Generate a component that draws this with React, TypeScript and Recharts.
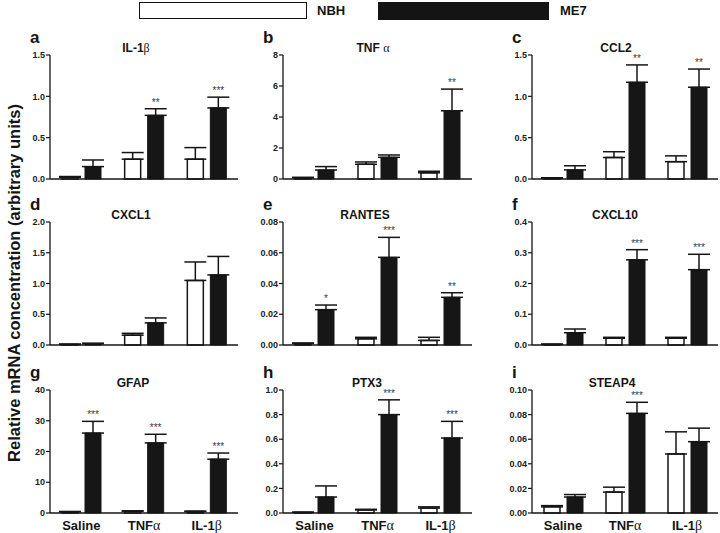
import React from 'react'
import { BarChart, Bar, XAxis, YAxis, ErrorBar, LabelList } from 'recharts'

// ── Data ──────────────────────────────────────────────────────
const groups = ['Saline', 'TNFα', 'IL-1β']

const il1bNBH = [0.02, 0.24, 0.24]
const il1bNBHErr = [0.01, 0.08, 0.14]
const il1bME7 = [0.15, 0.77, 0.86]
const il1bME7Err = [0.08, 0.08, 0.13]
const il1bSig = ['', '**', '***']

const tnfNBH = [0.08, 0.95, 0.4]
const tnfNBHErr = [0.03, 0.15, 0.1]
const tnfME7 = [0.58, 1.4, 4.4]
const tnfME7Err = [0.22, 0.15, 1.4]
const tnfSig = ['', '', '**']

const ccl2NBH = [0.01, 0.26, 0.21]
const ccl2NBHErr = [0.005, 0.07, 0.07]
const ccl2ME7 = [0.11, 1.17, 1.11]
const ccl2ME7Err = [0.05, 0.21, 0.22]
const ccl2Sig = ['', '**', '**']

const cxcl1NBH = [0.01, 0.16, 1.05]
const cxcl1NBHErr = [0.005, 0.03, 0.3]
const cxcl1ME7 = [0.02, 0.36, 1.14]
const cxcl1ME7Err = [0.01, 0.08, 0.3]
const cxcl1Sig = ['', '', '']

const rantesNBH = [0.001, 0.004, 0.003]
const rantesNBHErr = [0.0003, 0.001, 0.002]
const rantesME7 = [0.023, 0.057, 0.031]
const rantesME7Err = [0.003, 0.013, 0.003]
const rantesSig = ['*', '***', '**']

const cxcl10NBH = [0.002, 0.022, 0.022]
const cxcl10NBHErr = [0.001, 0.003, 0.003]
const cxcl10ME7 = [0.04, 0.277, 0.245]
const cxcl10ME7Err = [0.012, 0.033, 0.05]
const cxcl10Sig = ['', '***', '***']

const gfapNBH = [0.4, 0.6, 0.5]
const gfapNBHErr = [0.1, 0.1, 0.1]
const gfapME7 = [26, 22.8, 17.5]
const gfapME7Err = [3.8, 2.8, 2]
const gfapSig = ['***', '***', '***']

const ptx3NBH = [0.005, 0.025, 0.04]
const ptx3NBHErr = [0.002, 0.005, 0.01]
const ptx3ME7 = [0.13, 0.8, 0.61]
const ptx3ME7Err = [0.09, 0.12, 0.135]
const ptx3Sig = ['', '***', '***']

const steap4NBH = [0.005, 0.017, 0.048]
const steap4NBHErr = [0.001, 0.004, 0.018]
const steap4ME7 = [0.013, 0.081, 0.058]
const steap4ME7Err = [0.002, 0.009, 0.011]
const steap4Sig = ['', '***', '']

// ── Layout ────────────────────────────────────────────────────
const FONT = "'Liberation Sans', Arial, sans-serif"
const SERIF = "'Liberation Serif', 'DejaVu Serif', serif"
const INK = '#151515'

const colAxisX = [50, 283, 532]
const colAxisEnd = [238, 472, 718]
const rowTop = [55, 222, 390]
const rowBottom = [179, 345, 513]

type PanelDef = {
  letter: string
  title: string
  titleX: number
  row: number
  col: number
  nbh: number[]
  nbhErr: number[]
  me7: number[]
  me7Err: number[]
  sig: string[]
  ticks: number[]
  digits: number
}

const panels: PanelDef[] = [
  { letter: 'a', title: 'IL-1β', titleX: 136, row: 0, col: 0, nbh: il1bNBH, nbhErr: il1bNBHErr, me7: il1bME7, me7Err: il1bME7Err, sig: il1bSig, ticks: [0, 0.5, 1, 1.5], digits: 1 },
  { letter: 'b', title: 'TNF α', titleX: 373, row: 0, col: 1, nbh: tnfNBH, nbhErr: tnfNBHErr, me7: tnfME7, me7Err: tnfME7Err, sig: tnfSig, ticks: [0, 2, 4, 6, 8], digits: 0 },
  { letter: 'c', title: 'CCL2', titleX: 616, row: 0, col: 2, nbh: ccl2NBH, nbhErr: ccl2NBHErr, me7: ccl2ME7, me7Err: ccl2ME7Err, sig: ccl2Sig, ticks: [0, 0.5, 1, 1.5], digits: 1 },
  { letter: 'd', title: 'CXCL1', titleX: 131, row: 1, col: 0, nbh: cxcl1NBH, nbhErr: cxcl1NBHErr, me7: cxcl1ME7, me7Err: cxcl1ME7Err, sig: cxcl1Sig, ticks: [0, 0.5, 1, 1.5, 2], digits: 1 },
  { letter: 'e', title: 'RANTES', titleX: 365, row: 1, col: 1, nbh: rantesNBH, nbhErr: rantesNBHErr, me7: rantesME7, me7Err: rantesME7Err, sig: rantesSig, ticks: [0, 0.02, 0.04, 0.06, 0.08], digits: 2 },
  { letter: 'f', title: 'CXCL10', titleX: 615, row: 1, col: 2, nbh: cxcl10NBH, nbhErr: cxcl10NBHErr, me7: cxcl10ME7, me7Err: cxcl10ME7Err, sig: cxcl10Sig, ticks: [0, 0.1, 0.2, 0.3, 0.4], digits: 1 },
  { letter: 'g', title: 'GFAP', titleX: 133, row: 2, col: 0, nbh: gfapNBH, nbhErr: gfapNBHErr, me7: gfapME7, me7Err: gfapME7Err, sig: gfapSig, ticks: [0, 10, 20, 30, 40], digits: 0 },
  { letter: 'h', title: 'PTX3', titleX: 367, row: 2, col: 1, nbh: ptx3NBH, nbhErr: ptx3NBHErr, me7: ptx3ME7, me7Err: ptx3ME7Err, sig: ptx3Sig, ticks: [0, 0.2, 0.4, 0.6, 0.8, 1], digits: 1 },
  { letter: 'i', title: 'STEAP4', titleX: 612, row: 2, col: 2, nbh: steap4NBH, nbhErr: steap4NBHErr, me7: steap4ME7, me7Err: steap4ME7Err, sig: steap4Sig, ticks: [0, 0.02, 0.04, 0.06, 0.08, 0.1], digits: 2 },
]

// splits a trailing greek letter so it can be drawn in a serif face
function GreekText({ text }: { text: string }) {
  const last = text.slice(-1)
  if (last !== 'α' && last !== 'β') return <>{text}</>
  return (
    <>
      {text.slice(0, -1)}
      <span style={{ fontFamily: SERIF, fontWeight: 'normal' }}>{last}</span>
    </>
  )
}

function GroupTick({ x, y, payload }: any) {
  const s = String(payload.value)
  const last = s.slice(-1)
  const greek = last === 'α' || last === 'β'
  return (
    <text x={x} y={y} dy="0.71em" textAnchor="middle" fontSize={13} fontWeight="bold" fill={INK} fontFamily={FONT}>
      {greek ? s.slice(0, -1) : s}
      {greek && <tspan fontFamily={SERIF} fontWeight="normal" fontSize={14}>{last}</tspan>}
    </text>
  )
}

function Panel({ p }: { p: PanelDef }) {
  const data = groups.map((g, i) => ({
    group: g,
    nbh: p.nbh[i],
    nbhErr: [0, p.nbhErr[i]],
    me7: p.me7[i],
    me7Err: [0, p.me7Err[i]],
    sig: p.sig[i],
  }))
  const isBottom = p.row === 2
  const marginTop = 8
  const xh = isBottom ? 26 : 7
  const axisX = colAxisX[p.col]
  const plotH = rowBottom[p.row] - rowTop[p.row]
  const width = colAxisEnd[p.col] - axisX + 40 + 1
  const height = plotH + marginTop + xh
  const top = p.ticks[p.ticks.length - 1]

  // asterisks above the ME7 error bar, pixel scale from the bar itself
  const sigLabel = (props: any) => {
    const { x, y, width: w, height: h, index } = props
    const s = p.sig[index]
    if (!s) return null
    const pxPerUnit = h / p.me7[index]
    const errTop = y - p.me7Err[index] * pxPerUnit
    return (
      <text x={x + w / 2} y={errTop - 3} textAnchor="middle" fontSize={10} fill="#3a3a3a" fontFamily={FONT}>
        {s}
      </text>
    )
  }

  return (
    <>
      <div style={{
        position: 'absolute', left: axisX - 20, top: rowTop[p.row] - 27,
        fontSize: '17px', fontWeight: 'bold', color: INK, lineHeight: '20px',
      }}>
        {p.letter}
      </div>
      <div style={{
        position: 'absolute', left: p.titleX, top: rowTop[p.row] - 7,
        transform: 'translate(-50%, -50%)', fontSize: '12px', fontWeight: 'bold',
        color: INK, whiteSpace: 'nowrap', lineHeight: '14px',
      }}>
        <GreekText text={p.title} />
      </div>
      <div style={{ position: 'absolute', left: axisX - 40, top: rowTop[p.row] - marginTop }}>
        <BarChart
          width={width} height={height} data={data}
          margin={{ top: marginTop, right: 1, bottom: 0, left: 0 }}
          barGap={7}
        >
          <XAxis
            dataKey="group"
            axisLine={{ stroke: INK, strokeWidth: 1.3 }}
            tickLine={false}
            tick={isBottom ? <GroupTick /> : false}
            height={xh}
            interval={0}
          />
          <YAxis
            width={40}
            domain={[0, top]}
            ticks={p.ticks}
            interval={0}
            axisLine={{ stroke: INK, strokeWidth: 1.3 }}
            tickLine={{ stroke: INK, strokeWidth: 1.2 }}
            tickSize={4}
            tickMargin={1}
            tick={{ fill: '#222', fontSize: 9, fontWeight: 'bold', fontFamily: FONT }}
            tickFormatter={(v: number) => v.toFixed(p.digits)}
          />
          <Bar dataKey="nbh" fill="#ffffff" stroke={INK} strokeWidth={1.5} barSize={16} isAnimationActive={false}>
            <ErrorBar dataKey="nbhErr" direction="y" width={11} stroke={INK} strokeWidth={1.5} />
          </Bar>
          <Bar dataKey="me7" fill="#161616" stroke={INK} strokeWidth={1} barSize={16} isAnimationActive={false}>
            <ErrorBar dataKey="me7Err" direction="y" width={11} stroke={INK} strokeWidth={1.5} />
            <LabelList dataKey="sig" content={sigLabel} />
          </Bar>
        </BarChart>
      </div>
    </>
  )
}

export default function App() {
  return (
    <div style={{
      position: 'absolute', left: 0, top: 0, width: 720, height: 533,
      background: '#fff', fontFamily: FONT, overflow: 'hidden',
    }}>
      {/* legend */}
      <div style={{
        position: 'absolute', left: 139, top: 2, width: 166, height: 15,
        border: '1.5px solid #111', background: '#fff',
      }} />
      <div style={{ position: 'absolute', left: 317, top: 3, fontSize: '13px', fontWeight: 'bold', color: INK, lineHeight: '16px' }}>NBH</div>
      <div style={{
        position: 'absolute', left: 378, top: 2, width: 171, height: 18, background: '#141414',
      }} />
      <div style={{ position: 'absolute', left: 560, top: 3, fontSize: '13px', fontWeight: 'bold', color: INK, lineHeight: '16px' }}>ME7</div>

      {/* shared y label */}
      <div style={{
        position: 'absolute', left: 14, top: 283, transform: 'translate(-50%, -50%) rotate(-90deg)',
        whiteSpace: 'nowrap', fontSize: '16.5px', fontWeight: 'bold', color: INK,
      }}>
        Relative mRNA concentration (arbitrary units)
      </div>

      {panels.map(p => <Panel key={p.letter} p={p} />)}
    </div>
  )
}
